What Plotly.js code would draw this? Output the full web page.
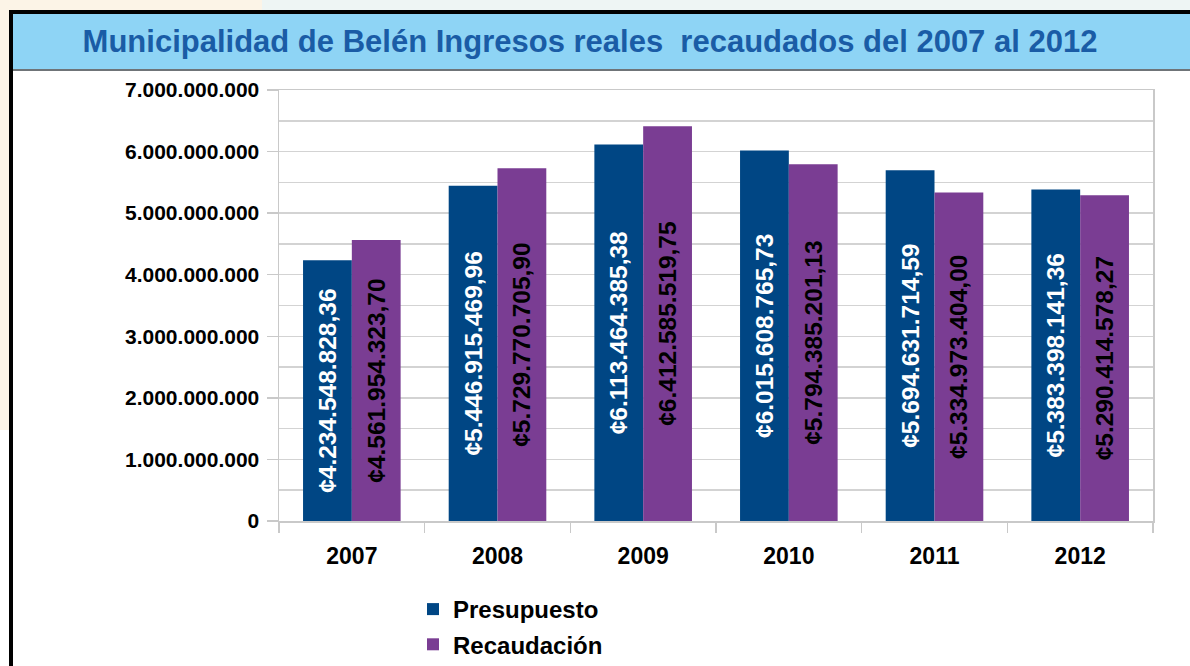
<!DOCTYPE html>
<html>
<head>
<meta charset="utf-8">
<script src="https://cdn.plot.ly/plotly-3.0.1.min.js"></script>
<style>
  html, body { margin: 0; padding: 0; background: #ffffff; overflow: hidden; }
  #chart { width: 1190px; height: 666px; }
</style>
</head>
<body>
<div id="chart"></div>
<script>
// ---- Data ----
const years = ['2007', '2008', '2009', '2010', '2011', '2012'];
const presupuesto = [4234548828.36, 5446915469.96, 6113464385.38, 6015608765.73, 5694631714.59, 5383398141.36];
const recaudacion = [4561954323.70, 5729770705.90, 6412585519.75, 5794385201.13, 5334973404.00, 5290414578.27];
const seriesNames = ['Presupuesto', 'Recaudación'];
const titleText = 'Municipalidad de Belén Ingresos reales\u00a0 recaudados del 2007 al 2012';

// ---- Layout helpers (pixel -> paper coordinates) ----
const W = 1190, H = 666;
const M = { l: 279, r: 37, t: 90, b: 145, autoexpand: false };
const PW = W - M.l - M.r, PH = H - M.t - M.b;
const px = x => (x - M.l) / PW;
const py = y => (H - M.b - y) / PH;

const FONT = 'Liberation Sans, Arial, sans-serif';

const traces = [
  {
    type: 'bar', name: seriesNames[0], x: years, y: presupuesto,
    legendgroup: 'a',
    marker: { color: '#004684' },
    texttemplate: '¢%{y:,.2f}', textposition: 'inside', insidetextanchor: 'middle',
    textangle: -90, constraintext: 'none',
    textfont: { family: FONT, size: 24.5, color: '#ffffff', weight: 'bold' },
    hoverinfo: 'skip'
  },
  {
    type: 'bar', name: seriesNames[1], x: years, y: recaudacion,
    legendgroup: 'b',
    marker: { color: '#7a3d93' },
    texttemplate: '¢%{y:,.2f}', textposition: 'inside', insidetextanchor: 'middle',
    textangle: -90, constraintext: 'none',
    textfont: { family: FONT, size: 24.5, color: '#000000', weight: 'bold' },
    hoverinfo: 'skip'
  }
];

const shapes = [
  // cream background top-left & left strip
  { type: 'rect', xref: 'paper', yref: 'paper', x0: px(0), x1: px(262), y0: py(11), y1: py(0), fillcolor: '#fcf4e7', line: { width: 0 }, layer: 'below' },
  { type: 'rect', xref: 'paper', yref: 'paper', x0: px(262), x1: px(1190), y0: py(11), y1: py(0), fillcolor: '#eef5f4', line: { width: 0 }, layer: 'below' },
  { type: 'rect', xref: 'paper', yref: 'paper', x0: px(0), x1: px(9), y0: py(430), y1: py(0), fillcolor: '#fcf4e7', line: { width: 0 }, layer: 'below' },
  // title bar
  { type: 'rect', xref: 'paper', yref: 'paper', x0: px(11), x1: px(1190), y0: py(70), y1: py(13), fillcolor: '#8ed4f5', line: { width: 0 }, layer: 'below' },
  { type: 'line', xref: 'paper', yref: 'paper', x0: px(13), x1: px(1190), y0: py(70), y1: py(70), line: { color: '#6f7478', width: 2 }, layer: 'below' },
  // black frame
  { type: 'line', xref: 'paper', yref: 'paper', x0: px(9), x1: px(1190), y0: py(12), y1: py(12), line: { color: '#000000', width: 4 }, layer: 'below' },
  { type: 'line', xref: 'paper', yref: 'paper', x0: px(11), x1: px(11), y0: py(668), y1: py(10), line: { color: '#000000', width: 4 }, layer: 'below' }
];

const layout = {
  width: W, height: H,
  margin: M,
  paper_bgcolor: '#ffffff',
  plot_bgcolor: '#ffffff',
  separators: ',.',
  font: { family: FONT, color: '#000000' },
  title: {
    text: titleText,
    font: { family: FONT, size: 31, color: '#1a5ca6', weight: 'bold' },
    xref: 'container', x: 590 / W, xanchor: 'center',
    yref: 'container', y: 1 - 41 / H, yanchor: 'middle'
  },
  barmode: 'group',
  bargap: 0.33,
  bargroupgap: 0,
  showlegend: true,
  legend: {
    orientation: 'v',
    traceorder: 'grouped',
    x: px(413), xanchor: 'left',
    y: py(587), yanchor: 'top',
    font: { family: FONT, size: 24, color: '#000000', weight: 'bold' },
    bgcolor: 'rgba(0,0,0,0)',
    tracegroupgap: 1
  },
  xaxis: {
    type: 'category',
    showline: true, linecolor: '#c9c9c9', linewidth: 1.5, mirror: true,
    ticks: 'outside', tickson: 'boundaries', ticklen: 10, tickcolor: '#c9c9c9', tickwidth: 1.5,
    showgrid: false,
    tickfont: { family: FONT, size: 23, color: '#000000', weight: 'bold' },
    ticklabelstandoff: 14
  },
  yaxis: {
    range: [0, 7000000000],
    dtick: 1000000000, tick0: 0,
    tickformat: ',d',
    showline: true, linecolor: '#c9c9c9', linewidth: 1.5, mirror: true,
    ticks: 'outside', ticklen: 11, tickcolor: '#c9c9c9', tickwidth: 1.5,
    showgrid: true, gridcolor: '#d3d3d3', gridwidth: 1.5,
    minor: { dtick: 500000000, showgrid: true, gridcolor: '#d3d3d3', gridwidth: 1.5, ticks: '' },
    zeroline: false,
    tickfont: { family: FONT, size: 21, color: '#000000', weight: 'bold' },
    ticklabelstandoff: 3
  },
  shapes: shapes
};

Plotly.newPlot('chart', traces, layout, { displayModeBar: false, staticPlot: true });
</script>
</body>
</html>
